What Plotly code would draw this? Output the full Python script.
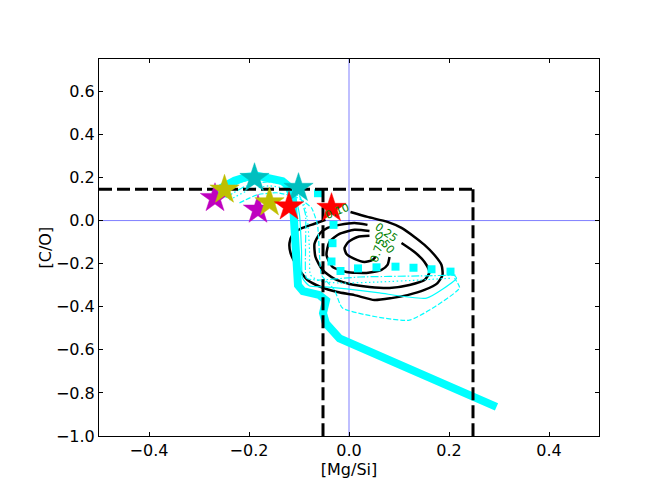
import plotly.graph_objects as go

AQUA = "#00FFFF"
FONT = "DejaVu Sans"

# main (thick) track
track_x = [-0.265, -0.255, -0.229, -0.205, -0.183, -0.155, -0.133, -0.121, -0.113, -0.111,
           -0.109, -0.105, -0.102, -0.092, -0.060, -0.046, -0.052, -0.046, -0.019, 0.295]
track_y = [0.130, 0.152, 0.185, 0.203, 0.208, 0.198, 0.183, 0.160, 0.110, 0.040,
           -0.080, -0.183, -0.300, -0.328, -0.345, -0.370, -0.430, -0.478, -0.547, -0.865]

# thin tracks
solid_x = [-0.255, -0.219, -0.175, -0.135, -0.109, -0.099, -0.095, -0.093, -0.079, -0.047,
           -0.005, 0.061, 0.155, 0.215, 0.205]
solid_y = [0.120, 0.175, 0.199, 0.175, 0.120, 0.027, -0.136, -0.267, -0.304, -0.308,
           -0.317, -0.336, -0.360, -0.267, -0.243]
dotted_x = [-0.239, -0.199, -0.159, -0.119, -0.093, -0.083, -0.079, -0.077, -0.059, -0.019,
            0.061, 0.141, 0.207]
dotted_y = [0.096, 0.143, 0.161, 0.143, 0.096, 0.003, -0.136, -0.253, -0.280, -0.290,
            -0.285, -0.276, -0.267]
dashed_x = [-0.219, -0.183, -0.143, -0.103, -0.075, -0.063, -0.059, -0.055, -0.029, -0.013,
            0.121, 0.221, 0.211]
dashed_y = [0.082, 0.120, 0.129, 0.106, 0.059, -0.020, -0.160, -0.253, -0.322, -0.406,
            -0.462, -0.313, -0.267]
dashdot_x = [-0.247, -0.209, -0.163, -0.123, -0.099, -0.087, -0.087, -0.085, -0.063, 0.021,
             0.141, 0.213]
dashdot_y = [0.106, 0.157, 0.180, 0.161, 0.115, 0.027, -0.136, -0.267, -0.276, -0.262,
             -0.257, -0.253]
# heavy dotted track (square dots)
heavy_x = [-0.062, -0.031, -0.033, -0.035, -0.017, 0.018, 0.055, 0.093, 0.129, 0.165, 0.203]
heavy_y = [0.127, -0.020, -0.105, -0.190, -0.234, -0.222, -0.217, -0.214, -0.219, -0.226, -0.237]

# density contours (traced), levels 0.10, 0.25, 0.50, 0.75
c010_x = [0.003, 0.037, 0.077, 0.105, 0.131, 0.151, 0.171, 0.185, 0.187, 0.177, 0.151, 0.117,
          0.085, 0.051, 0.011, -0.023, -0.057, -0.083, -0.103, -0.117, -0.119, -0.113, -0.097,
          -0.069, -0.047]
c010_y = [0.040, 0.017, -0.006, -0.034, -0.076, -0.113, -0.160, -0.206, -0.253, -0.290, -0.322,
          -0.346, -0.360, -0.369, -0.346, -0.332, -0.308, -0.276, -0.215, -0.150, -0.104, -0.066,
          -0.038, -0.015, 0.003]
c025_x = [0.105, 0.131, 0.151, 0.161, 0.151, 0.121, 0.081, 0.041, 0.001, -0.029, -0.053, -0.067,
          -0.069, -0.059, -0.043, -0.019, 0.011, 0.037]
c025_y = [-0.104, -0.146, -0.192, -0.239, -0.276, -0.299, -0.313, -0.308, -0.294, -0.271, -0.229,
          -0.169, -0.108, -0.062, -0.034, -0.020, -0.011, -0.020]
c050_x = [0.081, 0.077, 0.065, 0.035, -0.005, -0.033, -0.045, -0.039, -0.019, 0.011, 0.041]
c050_y = [-0.169, -0.206, -0.229, -0.243, -0.239, -0.215, -0.160, -0.099, -0.062, -0.043, -0.048]
c075_x = [0.053, 0.047, 0.031, 0.011, -0.005, -0.009, -0.001, 0.017, 0.041]
c075_y = [-0.169, -0.183, -0.192, -0.178, -0.155, -0.127, -0.099, -0.076, -0.071]

level_labels = ["0.10", "0.25", "0.50", "0.75"]
label_x = [-0.024, 0.074, 0.070, 0.057]
label_y = [0.044, -0.056, -0.103, -0.137]
label_angle = [-22, 35, 50, -72]

# stars
star_colors = ["#BF00BF", "#BFBF00", "#00BFBF", "#FF0000"]
star_x = [[-0.268, -0.182], [-0.249, -0.159], [-0.189, -0.101], [-0.120, -0.035]]
star_y = [[0.104, 0.050], [0.143, 0.084], [0.197, 0.151], [0.065, 0.058]]

# box limits
co_limit = 0.145
mgsi_low = -0.052
mgsi_high = 0.248

fig = go.Figure()

fig.add_hline(y=0, line=dict(color="rgba(0,0,255,0.5)", width=1), layer="below")
fig.add_vline(x=0, line=dict(color="rgba(0,0,255,0.5)", width=1), layer="below")

for cx, cy in [(c010_x, c010_y), (c025_x, c025_y), (c050_x, c050_y), (c075_x, c075_y)]:
    fig.add_trace(go.Scatter(x=cx, y=cy, mode="lines",
                             line=dict(color="black", width=2.5, shape="spline", smoothing=0.6),
                             hoverinfo="skip", showlegend=False))

for tx, ty, dash in [(solid_x, solid_y, "solid"), (dotted_x, dotted_y, "1.5px,2.5px"),
                     (dashed_x, dashed_y, "5px,2px"), (dashdot_x, dashdot_y, "8px,2px,1.5px,2px")]:
    fig.add_trace(go.Scatter(x=tx, y=ty, mode="lines",
                             line=dict(color=AQUA, width=1.2, dash=dash, shape="spline", smoothing=0.5),
                             hoverinfo="skip", showlegend=False))

fig.add_trace(go.Scatter(x=heavy_x, y=heavy_y, mode="markers",
                         marker=dict(symbol="square", size=8, color=AQUA, line=dict(width=0)),
                         hoverinfo="skip", showlegend=False))

fig.add_trace(go.Scatter(x=track_x, y=track_y, mode="lines",
                         line=dict(color=AQUA, width=8),
                         hoverinfo="skip", showlegend=False))

# box boundaries
black_dash = dict(color="black", width=3, dash="13px,5px")
fig.add_trace(go.Scatter(x=[-0.5, mgsi_high], y=[co_limit, co_limit], mode="lines",
                         line=black_dash, hoverinfo="skip", showlegend=False))
for xv in [mgsi_low, mgsi_high]:
    fig.add_trace(go.Scatter(x=[xv, xv], y=[co_limit, -1.0], mode="lines",
                             line=black_dash, hoverinfo="skip", showlegend=False))

for col, sx, sy in zip(star_colors, star_x, star_y):
    fig.add_trace(go.Scatter(x=sx, y=sy, mode="markers",
                             marker=dict(symbol="star", size=22, color=col,
                                         line=dict(color=col, width=0.5)),
                             hoverinfo="skip", showlegend=False))

for txt, lx, ly, ang in zip(level_labels, label_x, label_y, label_angle):
    fig.add_annotation(x=lx, y=ly, text=txt, showarrow=False, textangle=ang,
                       font=dict(family=FONT, size=11, color="#008000"))

# y label placed by hand (axis title standoff is ignored without automargin)
fig.add_annotation(x=0, y=0.5, xref="paper", yref="paper", text="[C/O]", showarrow=False,
                   textangle=-90, xanchor="center", yanchor="middle", xshift=-54,
                   font=dict(family=FONT, size=16, color="black"))

axis_common = dict(showgrid=False, zeroline=False, showline=True, linecolor="black", linewidth=1,
                   mirror="allticks", ticks="inside", ticklen=4, tickcolor="black",
                   tickfont=dict(family=FONT, size=16, color="black"), tickformat=".1f")

# page body adds 8px around the figure, so margins are trimmed to land the axes in place
fig.update_layout(
    width=664, height=498,
    margin=dict(l=91, r=73, t=51, b=70),
    plot_bgcolor="white", paper_bgcolor="white",
    font=dict(family=FONT, size=16, color="black"),
    xaxis=dict(range=[-0.5, 0.5], dtick=0.2, tick0=-0.4,
               title=dict(text="[Mg/Si]", font=dict(family=FONT, size=16), standoff=4),
               **axis_common),
    yaxis=dict(range=[-1.0, 0.75], dtick=0.2, tick0=-1.0, **axis_common),
)

fig.write_html("out.html")
